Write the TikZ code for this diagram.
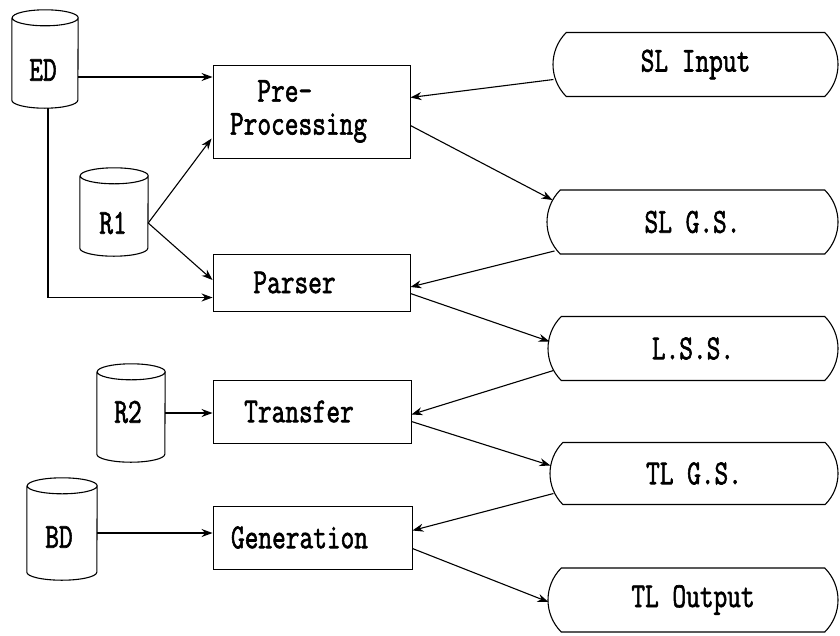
\documentclass[tikz,border=0pt]{standalone}
\usepackage{graphicx}
\usetikzlibrary{shapes.misc,arrows.meta,calc}
\newcommand{\mylbl}[1]{\scalebox{0.76}[1]{\special{pdf:literal 2 Tr 0.7 w}#1\special{pdf:literal 0 Tr}}}
% cylinder outline drawn round a named node: #1 node, #2 half width
\newcommand{\dbshape}[2]{%
  \draw[dbline] ($(#1.north west)+(0,8)$) -- ($(#1.south west)+(0,-8)$)
    arc[start angle=180, end angle=360, x radius=#2pt, y radius=8pt]
    -- ($(#1.north east)+(0,8)$)
    arc[start angle=0, end angle=180, x radius=#2pt, y radius=8pt]
    arc[start angle=180, end angle=360, x radius=#2pt, y radius=8pt];}
\begin{document}
\begin{tikzpicture}[x=1pt,y=-1pt,
  every node/.style={font=\ttfamily\fontsize{35}{33}\selectfont, inner sep=0pt},
  procbox/.style={draw, line width=0.9pt, rectangle},
  term/.style={draw, line width=1.1pt, rounded rectangle, rounded rectangle arc length=90,
    minimum height=64pt},
  db/.style={rectangle},
  dbline/.style={line width=1.1pt, line join=round},
  arr/.style={line width=1.1pt, -{Stealth[length=11pt,width=8pt]}}
]
\useasboundingbox (0,0) rectangle (840,635);

% process boxes
\node[procbox, minimum width=197pt, minimum height=93pt] (pre) at (311.5,111.5)
  {\mylbl{\begin{tabular}{@{}l@{}}\hphantom{Pr}Pre-\\Processing\end{tabular}}\hspace*{26pt}};
\node[procbox, minimum width=197pt, minimum height=57pt] (parser) at (311.5,282.5)
  {\mylbl{Parser}\hspace*{34pt}};
\node[procbox, minimum width=198pt, minimum height=63pt] (transfer) at (312,411.5)
  {\mylbl{Transfer}\hspace*{26pt}};
\node[procbox, minimum width=199pt, minimum height=63pt] (gen) at (312.5,537.5)
  {\mylbl{Generation}\hspace*{26pt}};

% terminators
\node[term, minimum width=285pt] (slin) at (695.5,64.5) {\mylbl{SL Input}};
\node[term, minimum width=291pt] (slgs) at (692.5,222) {\mylbl{SL G.S.}};
\node[term, minimum width=290pt] (lss) at (693,348.5) {\mylbl{L.S.S.}};
\node[term, minimum width=288pt, minimum height=62pt] (tlgs) at (694,473.5) {\mylbl{TL G.S.}};
\node[term, minimum width=290pt] (tlout) at (693,600) {\mylbl{TL Output}};

% data stores
\node[db, minimum width=66pt, minimum height=98pt] (ed) at (45,59) {};
\node[db, minimum width=68pt, minimum height=88pt] (r1) at (114,212) {};
\node[db, minimum width=68pt, minimum height=98pt] (r2) at (131,413) {};
\node[db, minimum width=70pt, minimum height=102pt] (bd) at (62,529) {};
\dbshape{ed}{33}
\dbshape{r1}{34}
\dbshape{r2}{34}
\dbshape{bd}{35}
\node (edlbl) at ($(ed.center)+(-2,11)$) {\mylbl{ED}};
\node (r1lbl) at ($(r1.center)+(-1,11)$) {\mylbl{R1}};
\node (r2lbl) at ($(r2.center)+(-3,-1)$) {\mylbl{R2}};
\node (bdlbl) at ($(bd.center)+(-3,8)$) {\mylbl{BD}};

% connector end points
\coordinate (edout) at ($(ed.east)+(0,18)$);
\coordinate (bdout) at ($(bd.east)+(0,4)$);
\coordinate (r1out) at ($(r1.east)+(0,11)$);

% connectors from stores
\draw[arr] (edout) -- (edout -| pre.west);
\draw[arr] ($(ed.south)+(3,0)$) |- ($(parser.west)+(0,15)$);
\draw[arr] (r1out) -- ($(pre.west)+(-1,27)$);
\draw[arr] (r1out) -- ($(parser.west)+(0,-2.5)$);
\draw[arr] (r2.east) -- (r2.east -| transfer.west);
\draw[arr] (bdout) -- (bdout -| gen.west);

% main chain
\draw[arr] ($(slin.west)+(1,15)$) -- ($(pre.east)+(0,-14)$);
\draw[arr] ($(pre.east)+(0,14)$) -- ($(slgs.west)+(6,-22)$);
\draw[arr] ($(slgs.west)+(8,29)$) -- ($(parser.east)+(0,4.5)$);
\draw[arr] ($(parser.east)+(0,11)$) -- ($(lss.west)+(2,-7)$);
\draw[arr] ($(lss.west)+(6,22)$) -- ($(transfer.east)+(0,3)$);
\draw[arr] ($(transfer.east)+(0,10)$) -- ($(tlgs.west)+(1,-8)$);
\draw[arr] ($(tlgs.west)+(4,20)$) -- ($(gen.east)+(0,-7)$);
\draw[arr] ($(gen.east)+(0,11)$) -- ($(tlout.west)+(1,2)$);
\end{tikzpicture}
\end{document}
